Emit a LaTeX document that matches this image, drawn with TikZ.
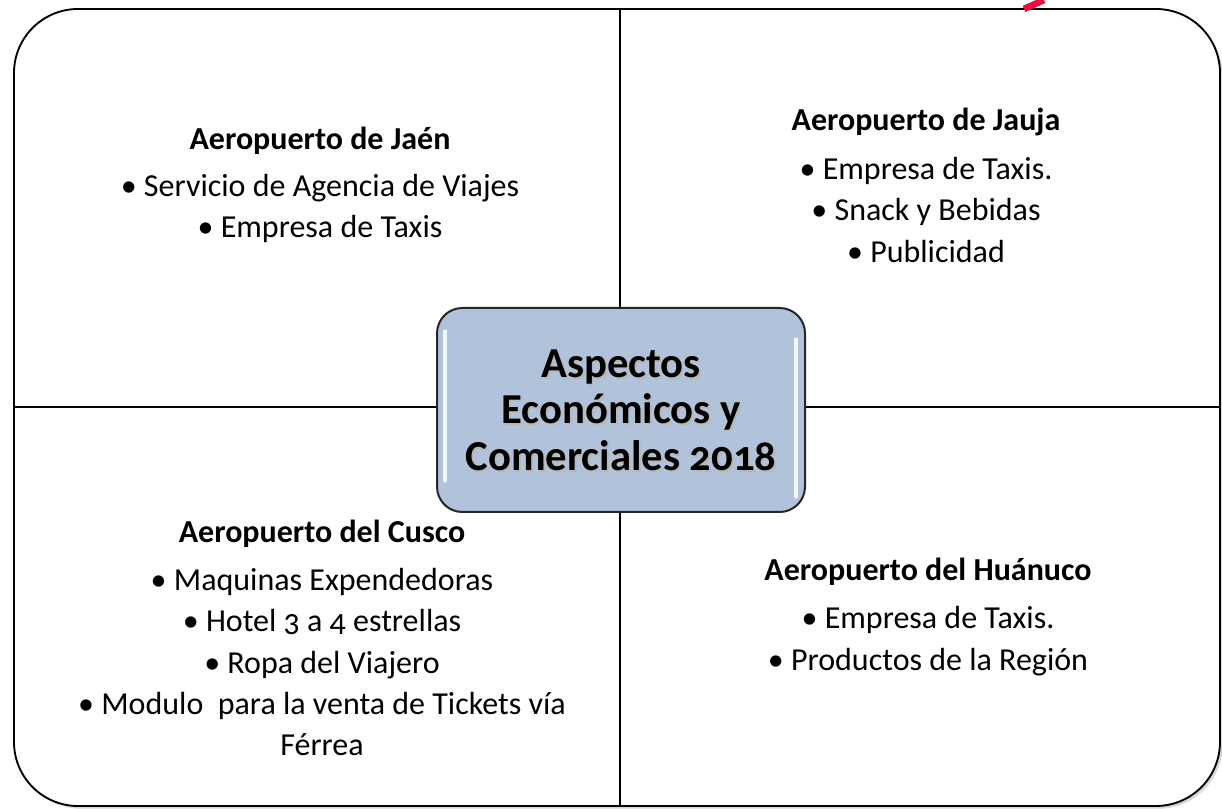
\documentclass[tikz,border=0pt]{standalone}
\usepackage{fontspec}
\setmainfont{Carlito}[Numbers=OldStyle]
\usepackage{tikz}
\usetikzlibrary{shadows, positioning, calc}
\definecolor{AspBlue}{RGB}{176,195,219}
\definecolor{AspRed}{RGB}{232,16,64}

\begin{document}
\begin{tikzpicture}[x=0.75pt,y=0.75pt,
  quadtext/.style={align=center, font=\fontsize{24}{31}\selectfont},
  centerbox/.style={draw=black!85, line width=1.5pt, fill=AspBlue, rounded corners=19pt,
    minimum width=276pt, minimum height=153pt, align=center,
    font=\fontsize{32}{35}\selectfont\bfseries},
  gloss/.style={white, line width=2.5pt, line cap=round, opacity=0.85}]
  \path[use as bounding box] (0,0) rectangle (1222,808);

  % frame
  \draw[line width=1.4pt, rounded corners=48pt, fill=white,
    drop shadow={shadow xshift=2pt, shadow yshift=-2pt, fill=black!30}]
    (14,2) rectangle (1220,799);
  \draw[AspRed, line width=5pt] (1024,799) -- (1044,808);

  % ends of the dividers
  \coordinate (topmid) at (620,799);
  \coordinate (botmid) at (620,2);
  \coordinate (leftmid) at (14,401);
  \coordinate (rightmid) at (1220,401);

  \node[centerbox] (centro) at (621,398) {};
  \draw[line width=1.2pt] (topmid) -- (topmid |- centro.north);
  \draw[line width=1.2pt] (botmid) -- (botmid |- centro.south);
  \draw[line width=1.2pt] (leftmid) -- (leftmid -| centro.west);
  \draw[line width=1.2pt] (rightmid) -- (rightmid -| centro.east);
  \draw[gloss] ($(centro.north west)+(9,-24)$) -- ($(centro.south west)+(9,32)$);
  \draw[gloss] ($(centro.north east)+(-10,-32)$) -- ($(centro.south east)+(-10,16)$);
  \node[text=black!28, align=center, font=\fontsize{32}{35}\selectfont\bfseries]
    at ($(centro)+(2,-2)$) {Aspectos\\Económicos y\\Comerciales 2018};
  \node[align=center, font=\fontsize{32}{35}\selectfont\bfseries] (centrotxt)
    at (centro) {Aspectos\\Económicos y\\Comerciales 2018};

  % quadrants
  \node[quadtext] (jaen) at (320,623) {
    {\bfseries Aeropuerto de Jaén}\\[4pt]
    • Servicio de Agencia de Viajes\\
    • Empresa de Taxis
  };
  \node[quadtext] (jauja) at (926,623) {
    {\bfseries Aeropuerto de Jauja}\\[6pt]
    • Empresa de Taxis.\\
    • Snack y Bebidas\\
    • Publicidad
  };
  \node[quadtext] (cusco) at (322,170) {
    {\bfseries Aeropuerto del Cusco}\\[5pt]
    • Maquinas Expendedoras\\
    • Hotel 3 a 4 estrellas\\
    • Ropa del Viajero\\
    • Modulo\ \ para la venta de Tickets vía\\
    Férrea
  };
  \node[quadtext] (huanuco) at (928,191) {
    {\bfseries Aeropuerto del Huánuco}\\[5pt]
    • Empresa de Taxis.\\
    • Productos de la Región
  };
\end{tikzpicture}
\end{document}
